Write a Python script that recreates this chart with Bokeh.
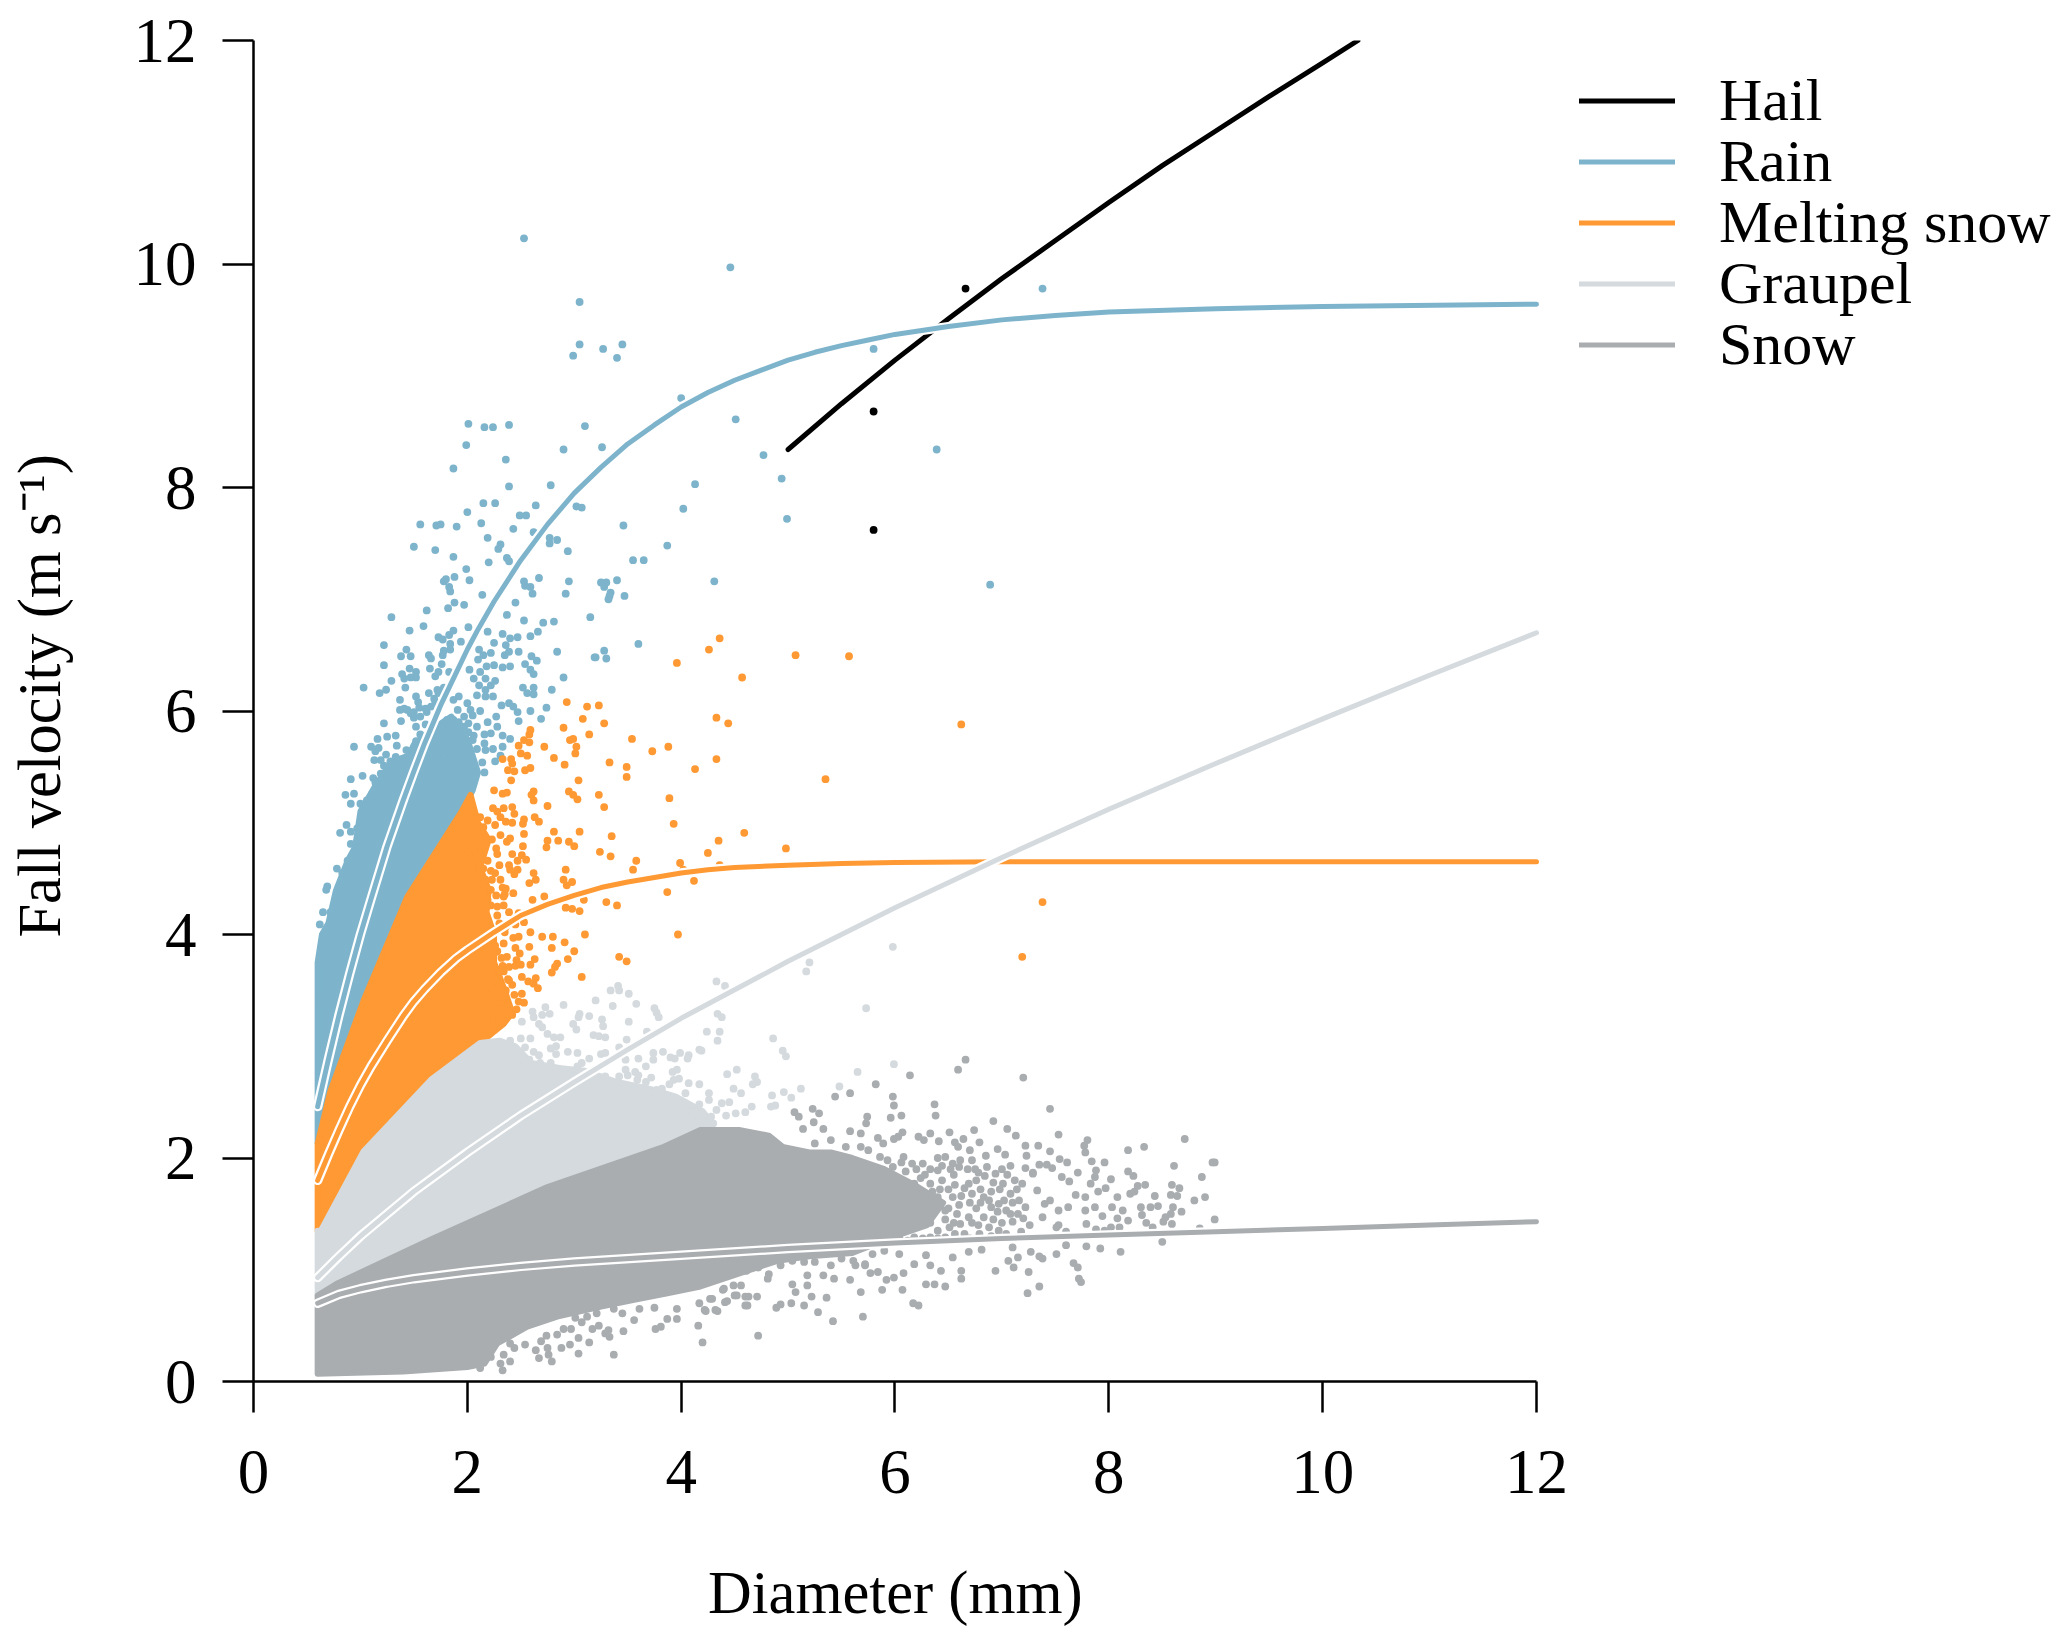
from bokeh.plotting import figure
from bokeh.models import Legend, LegendItem, FixedTicker, Range1d
from bokeh.embed import file_html
from bokeh.resources import INLINE

HAIL, RAIN, MELT, GRAUPEL, SNOW = "#000000", "#7DB4CC", "#FF9933", "#D4DADD", "#A9ADB0"
FONT = "Liberation Serif"

tick_values = [0, 2, 4, 6, 8, 10, 12]

# fitted curves
hail_x = [5, 5.5, 6, 6.5, 7, 7.5, 8, 8.5, 9, 9.5, 10, 10.33]
hail_y = [8.34, 8.75, 9.14, 9.51, 9.87, 10.21, 10.55, 10.88, 11.19, 11.50, 11.80, 12.0]
rain_x = [0.6, 0.7, 0.8, 0.9, 1, 1.1, 1.25, 1.4, 1.5, 1.6, 1.75, 1.9, 2, 2.1, 2.25, 2.5, 2.75, 3, 3.25, 3.5, 3.75, 4, 4.25, 4.5, 4.75, 5, 5.25, 5.5, 5.75, 6, 6.5, 7, 7.5, 8, 9, 10, 12]
rain_y = [2.46, 2.88, 3.28, 3.65, 4.0, 4.32, 4.79, 5.20, 5.46, 5.71, 6.05, 6.35, 6.55, 6.73, 6.98, 7.35, 7.67, 7.95, 8.18, 8.39, 8.56, 8.72, 8.85, 8.96, 9.05, 9.14, 9.21, 9.27, 9.32, 9.37, 9.44, 9.50, 9.54, 9.57, 9.60, 9.62, 9.64]
melt_x = [0.6, 0.7, 0.8, 0.9, 1, 1.1, 1.25, 1.4, 1.5, 1.6, 1.75, 1.9, 2, 2.25, 2.5, 2.75, 3, 3.25, 3.5, 3.75, 4, 4.25, 4.5, 5, 5.5, 6, 7, 12]
melt_y = [1.8, 2.03, 2.25, 2.46, 2.65, 2.82, 3.05, 3.27, 3.40, 3.51, 3.66, 3.79, 3.86, 4.02, 4.17, 4.27, 4.35, 4.42, 4.47, 4.51, 4.55, 4.58, 4.60, 4.62, 4.635, 4.645, 4.65, 4.65]
graupel_x = [0.6, 0.8, 1, 1.5, 2, 2.5, 3, 3.5, 4, 5, 6, 7, 8, 9, 10, 11, 12]
graupel_y = [0.93, 1.12, 1.30, 1.70, 2.05, 2.38, 2.68, 2.97, 3.25, 3.76, 4.24, 4.69, 5.12, 5.53, 5.93, 6.32, 6.70]
snow_x = [0.6, 0.8, 1, 1.25, 1.5, 2, 2.5, 3, 4, 5, 6, 7, 8, 9, 10, 11, 12]
snow_y = [0.70, 0.78, 0.83, 0.88, 0.92, 0.98, 1.03, 1.07, 1.13, 1.19, 1.24, 1.28, 1.31, 1.34, 1.37, 1.40, 1.43]

# outlines of the solid parts of the clouds
rain_cloud = [(.6,2.13),(.6,3.75),(.64,4.0),(.70,4.1),(.77,4.39),(.88,4.66),(.95,4.78),(1.0,5.1),(1.15,5.35),(1.3,5.55),(1.45,5.6),(1.5,5.7),(1.69,5.85),(1.85,5.95),(2.0,5.75),(2.1,5.45),(2.05,5.29),(1.94,5.09),(1.44,4.34),(1.03,3.41),(.72,2.6)]
melt_cloud = [(.6,2.13),(.72,2.6),(1.03,3.41),(1.44,4.34),(1.94,5.09),(2.03,5.25),(2.1,5.0),(2.2,4.85),(2.12,4.6),(2.2,4.4),(2.18,4.2),(2.25,4.0),(2.25,3.75),(2.35,3.5),(2.42,3.3),(2.34,3.2),(2.12,3.03),(1.66,2.70),(1.03,2.06),(.63,1.35),(.6,1.35)]
graupel_cloud = [(.6,.77),(.6,1.35),(.63,1.35),(1.03,2.06),(1.66,2.70),(2.12,3.03),(2.30,3.05),(2.45,3.0),(2.6,2.85),(2.9,2.8),(3.1,2.78),(3.4,2.68),(3.7,2.62),(3.95,2.55),(4.2,2.42),(4.3,2.3),(3.84,2.10),(2.75,1.74),(1.66,1.27),(.79,.88)]
snow_cloud = [(.6,.07),(.6,.77),(.79,.88),(1.66,1.27),(2.75,1.74),(3.84,2.10),(4.18,2.25),(4.54,2.25),(4.82,2.2),(4.95,2.1),(5.2,2.05),(5.4,2.05),(5.6,2.0),(5.9,1.9),(6.2,1.75),(6.45,1.6),(6.3,1.4),(6.0,1.3),(5.6,1.15),(5.2,1.12),(4.9,1.08),(4.65,1.0),(4.18,.85),(3.87,.79),(3.56,.73),(3.25,.67),(2.84,.58),(2.56,.49),(2.28,.34),(2.16,.16),(2.0,.13),(1.4,.09)]

hail_points = [(5.8,7.62),(5.8,8.68),(6.66,9.78)]

rain_points = [(2.53,10.23),(4.46,9.97),(3.05,9.66),(3.05,9.28),(2.99,9.18),(3.27,9.24),(3.45,9.28),(3.40,9.16),(5.80,9.24),(4.00,8.80),(7.38,9.78),
(4.51,8.61),(4.77,8.29),(4.94,8.08),(4.99,7.72),(6.39,8.34),(6.89,7.13),(4.13,8.03),(4.02,7.81),(3.46,7.66),(3.87,7.48),(3.55,7.35),(3.65,7.35),(4.31,7.16),
(2.01,8.57),(2.16,8.54),(2.24,8.54),(2.39,8.56),(3.10,8.55),(1.99,8.38),(2.90,8.34),(3.26,8.36),(2.36,8.25),(1.87,8.17),(2.78,8.02),(2.39,8.01),(2.15,7.86),(2.26,7.86),(2.64,7.84),(2.00,7.78),(2.49,7.75),(2.55,7.75),(3.02,7.83),(3.07,7.82),
(1.56,7.67),(1.71,7.66),(1.75,7.67),(1.90,7.65),(2.13,7.68),(2.43,7.63),(2.62,7.60),(1.50,7.47),(1.70,7.44),(2.19,7.55),(2.29,7.45),(2.31,7.49),(2.77,7.55),(2.77,7.50),(2.84,7.53),(2.94,7.43),(1.87,7.38),(2.20,7.33),(2.37,7.37),(2.39,7.34),(1.99,7.27),(1.88,7.20),(1.78,7.16),(1.80,7.18),(2.02,7.17),(2.67,7.19),(2.53,7.16),(2.54,7.12),(2.59,7.11),(2.95,7.16),(1.83,7.11),(1.84,7.07),(2.61,7.05),(2.14,7.04),(2.92,7.05),(3.25,7.15),(3.30,7.15),(3.28,7.11),(3.40,7.17),(3.34,7.06),(3.33,7.03),(3.32,7.00),(3.47,7.03),
(1.29,6.84),(1.62,6.90),(1.82,6.92),(1.88,6.97),(1.97,6.95),(2.45,6.97),(2.37,6.86),(3.15,6.84),(1.46,6.72),(1.59,6.76),(1.87,6.72),(1.83,6.68),(2.01,6.75),(1.73,6.66),(1.77,6.64),(1.22,6.59),(2.53,6.81),(2.71,6.79),(2.81,6.80),(2.66,6.71),(2.59,6.67),(2.47,6.66),(2.40,6.65),(2.33,6.69),(2.19,6.71),(2.25,6.61),(2.36,6.59),(2.84,6.53),(3.19,6.48),(3.60,6.60),(3.28,6.54),(3.20,6.48),(3.30,6.47),(2.48,6.53),(2.39,6.53),(2.35,6.50),(2.60,6.49),(2.65,6.45),(2.54,6.42),(2.59,6.37),(2.62,6.33),(2.40,6.40),(2.33,6.39),(2.25,6.41),(2.18,6.40),(2.11,6.55),(2.15,6.50),(2.22,6.52),(2.10,6.46),(1.94,6.62),(1.84,6.60),(1.78,6.54),(1.84,6.55),(1.43,6.55),(1.38,6.49),(1.47,6.49),(1.64,6.50),(1.66,6.47),(1.77,6.50),(1.76,6.42),(1.22,6.41),(1.65,6.38),(1.73,6.35),(1.83,6.35),(1.46,6.38),(1.39,6.33),(1.52,6.35),(1.47,6.30),(1.52,6.30),(1.70,6.31),(1.29,6.27),(1.41,6.29),(1.42,6.21),(1.03,6.21),(1.24,6.19),(1.18,6.16),
(2.02,6.37),(2.12,6.35),(2.06,6.29),(2.17,6.29),(2.26,6.27),(2.22,6.23),(2.11,6.23),(2.17,6.19),(2.09,6.14),(2.17,6.13),(2.24,6.13),(2.90,6.30),(2.52,6.21),(2.62,6.21),(2.56,6.16),(2.62,6.15),(2.79,6.19),(1.64,6.16),(1.72,6.19),(1.78,6.21),(1.37,6.10),(1.52,6.13),(1.54,6.08),(1.92,6.13),(1.87,6.10),(2.0,6.07),(2.32,6.05),(2.39,6.07),(2.43,6.04),(2.47,5.99),(2.74,6.03),(2.59,6.00),
(1.37,6.01),(1.44,6.01),(1.50,5.99),(1.55,6.03),(1.66,6.04),(1.62,5.99),(1.50,5.94),(1.91,6.01),(2.03,6.01),(2.12,6.00),(2.05,5.96),(2.27,5.95),(2.69,5.93),(2.48,5.91),(1.38,5.91),(1.22,5.89),(1.52,5.86),(1.61,5.88),(1.81,5.92),(1.87,5.92),(1.97,5.95),(2.01,5.89),(1.94,5.86),(2.09,5.86),(2.19,5.90),(2.28,5.86),(1.74,5.82),(1.56,5.79),(2.16,5.79),(2.22,5.80),(2.33,5.78),(2.40,5.75),(1.33,5.78),(1.25,5.77),(1.16,5.75),(1.34,5.69),(1.52,5.73),(1.94,5.75),(2.06,5.78),(2.05,5.74),(.94,5.68),(1.10,5.68),(1.17,5.67),(2.33,5.68),(2.16,5.71),(2.09,5.66),(2.17,5.65),(2.24,5.66),(1.43,5.65),(1.48,5.61),(1.24,5.61),(1.14,5.64),(1.97,5.62),(2.31,5.60),(1.33,5.59),(1.28,5.55),(1.13,5.56),(1.39,5.51),(2.14,5.54),(2.26,5.55),(2.0,5.51),(.91,5.39),(1.02,5.42),(1.12,5.40),(1.22,5.51),(1.28,5.44),(2.06,5.45),(2.16,5.45),(1.17,5.34),(.94,5.26),(.86,5.25),(.91,5.17),(1.0,5.17),(1.04,5.11),(1.11,5.26),(1.09,5.19),(.87,4.98),(.81,4.91),(1.05,5.02),(.91,4.92),(.97,4.95),(.91,4.81),(.88,4.66),(.78,4.59),(.83,4.55),(.69,4.43),
(.68,4.40),(.65,4.2),(.72,4.2),(.62,4.09),(.68,4.03),(.75,4.1),(.78,4.3),
(1.83,5.89),(1.87,5.84),(1.92,5.90),(1.97,5.86),(2.01,5.81),(1.94,5.77),(1.89,5.75),(1.98,5.75),(1.84,5.80),(1.81,5.84),(1.69,5.71),(1.73,5.66),(1.78,5.62),(1.84,5.63),(1.91,5.59),(1.97,5.59),(1.94,5.65),(1.67,5.62),(1.72,5.56),(1.80,5.53),(1.87,5.50),(2.0,5.44),(1.94,5.41),(1.84,5.44),(1.75,5.47),(1.66,5.50),(1.61,5.44),(1.56,5.38),(1.67,5.38),(1.78,5.35),
(1.19,5.56),(1.24,5.50),(1.30,5.47),(1.19,5.44),(1.14,5.36),(1.25,5.38),(1.34,5.38),(1.39,5.32),(1.28,5.29),(1.17,5.23),(1.06,5.20),(1.13,5.17),(1.22,5.17),(1.31,5.23),
(1.41,6.02),(1.47,5.98),(1.56,5.95),(1.61,6.02),(1.70,6.08),(1.73,6.16),(1.69,6.11)]

melt_points = [(2.93,6.08),(3.12,6.04),(3.23,6.05),(3.08,5.93),(3.28,5.89),(2.90,5.85),(3.14,5.79),(2.96,5.74),(2.99,5.75),(3.02,5.68),(2.72,5.68),(3.01,5.62),(2.81,5.58),(2.91,5.52),(3.33,5.54),(3.49,5.50),(3.49,5.41),(3.54,5.75),(3.73,5.64),(3.88,5.68),(4.33,5.94),(4.44,5.89),(4.33,5.57),(4.13,5.48),(3.04,5.38),(2.95,5.28),(2.99,5.25),(3.03,5.21),(3.23,5.25),(3.28,5.14),(3.89,5.22),(2.75,5.15),(2.62,5.28),(2.60,5.25),(2.62,5.20),(3.93,4.99),(4.59,4.91),(4.98,4.77),(4.35,4.84),(4.25,4.73),(3.99,4.64),(4.36,4.62),(4.02,4.58),(4.12,4.48),(3.87,4.38),(3.58,4.66),(3.55,4.58),(3.34,4.70),(3.24,4.74),(3.35,4.88),(3.05,4.92),(3.00,4.79),(2.95,4.83),(2.85,4.84),(2.81,4.92),(2.75,4.84),(2.74,4.78),(2.63,5.05),(2.67,5.01),(2.92,4.58),(2.90,4.49),(2.93,4.44),(2.98,4.47),(2.62,4.55),(2.64,4.49),(2.58,4.46),(3.09,4.31),(3.30,4.29),(3.40,4.26),(2.92,4.24),(2.98,4.23),(3.05,4.21),(2.72,4.34),(2.61,4.31),(3.10,4.00),(3.97,4.00),(2.91,3.93),(2.70,3.98),(2.80,3.98),(2.79,3.88),(3.00,3.85),(3.42,3.80),(3.49,3.76),(2.94,3.78),(2.84,3.74),(2.82,3.71),(2.79,3.66),(3.07,3.62),(2.63,3.78),(2.59,3.73),(2.64,3.61),(2.57,3.58),(2.62,3.56),(2.66,3.52),
(2.59,5.83),(2.58,5.79),(2.53,5.74),(2.58,5.72),(2.48,5.69),(2.50,5.62),(2.56,5.60),(2.41,5.57),(2.42,5.53),(2.33,5.57),(2.38,5.47),(2.44,5.46),(2.54,5.47),(2.59,5.49),(2.41,5.38),(2.25,5.29),(2.33,5.26),(2.37,5.27),(2.24,5.13),(2.34,5.13),(2.42,5.14),(2.28,5.10),(2.44,5.08),(2.31,5.05),(2.36,5.01),(2.42,5.00),(2.53,5.03),(2.52,4.99),(2.26,4.98),(2.31,4.89),(2.53,4.90),(2.40,4.86),(2.37,4.83),(2.52,4.79),(2.42,4.72),(2.51,4.71),(2.55,4.67),(2.40,4.58),(2.47,4.58),(2.44,4.54),(2.26,4.55),(2.27,4.35),(2.35,4.36),(2.43,4.37),(2.34,4.26),(2.39,4.20),(2.28,4.17),(2.53,4.11),(2.45,4.09),(2.59,4.02),(2.43,3.97),(2.23,3.96),(2.26,3.90),(2.45,3.88),(2.49,3.83),(2.32,3.79),(2.37,3.80),(2.46,3.77),(2.33,3.72),(2.34,3.67),(2.50,3.73),(2.45,3.72),(2.23,3.65),(2.25,3.59),(2.36,3.50),(2.26,3.52),(2.44,3.46),(2.31,3.40),(2.48,3.40),(2.53,3.39),(2.26,3.34),(2.46,3.33),(2.42,3.28),(2.23,3.26),
(2.12,5.05),(2.08,5.04),(2.19,5.02),(2.15,4.96),(2.11,4.86),(2.23,4.85),(2.15,4.80),(2.27,4.77),(2.28,4.72),(2.01,4.74),(2.07,4.74),(2.19,4.66),(2.15,4.59),(2.06,4.62),(2.23,4.49),(2.17,4.49),(1.98,4.44),(2.09,4.41),(2.15,4.37),(2.0,4.34),(2.19,4.31),(2.22,4.26),(2.12,4.22),(2.20,4.10),(2.06,4.07),(2.19,3.86),(2.09,3.89),(2.20,3.76),(2.11,3.72),(2.14,3.59),(2.17,3.47),(2.08,3.50),(2.12,3.32),(2.03,3.29),(2.25,3.20),(2.19,3.23),
(2.12,4.72),(2.10,4.55),(2.30,4.62),(2.33,4.42),(2.22,4.40),(2.30,4.10),(2.15,4.15),(2.35,4.02),(2.28,3.85),(2.15,3.82),(2.38,3.60),(2.30,3.60),(2.42,3.55),
(2.03,4.81),(2.08,4.66),(2.12,4.57),(2.22,4.57),(2.15,4.46),(2.08,4.34),(2.15,4.25),(2.09,4.10),(2.11,3.89),(2.15,3.80),(2.15,3.44),(2.25,3.44),(2.15,3.29),(2.31,3.28),(2.12,3.20),
(2.36,4.41),(2.31,4.49),(2.39,4.62),(2.47,4.66),(2.28,4.25),(2.34,4.34),(2.48,4.19),(2.36,4.07),(2.25,4.04),(2.48,3.98),(2.34,3.92),(2.25,3.83),(2.58,3.89),(2.39,3.71),(2.30,3.68),(2.51,3.62),(2.39,3.59),(2.34,3.44),(2.51,3.47),
(4.36,6.65),(4.26,6.55),(3.96,6.43),(4.57,6.30),(5.07,6.50),(5.57,6.49),(6.62,5.88),(5.35,5.39),(7.38,4.29),(7.19,3.80)]

graupel_points = [(4.33,3.58),(4.41,3.54),(5.17,3.67),(5.20,3.75),(3.41,3.54),(3.42,3.50),(3.34,3.50),(3.51,3.47),(3.20,3.41),(3.58,3.38),(3.36,3.36),(2.90,3.37),(2.73,3.35),(2.77,3.29),(2.70,3.28),(2.61,3.31),(2.62,3.26),(3.05,3.29),(3.04,3.26),(3.14,3.27),(3.26,3.24),(3.27,3.18),(3.51,3.22),(3.75,3.34),(3.77,3.30),(3.79,3.26),(4.34,3.29),(4.38,3.26),(4.24,3.13),(4.36,3.13),(4.34,3.05),(4.86,3.07),(4.95,2.96),(4.98,2.91),(2.51,3.22),(2.67,3.20),(2.70,3.17),(2.99,3.20),(3.02,3.15),(2.75,3.11),(2.81,3.08),(2.87,3.08),(3.18,3.10),(3.23,3.09),(3.29,3.08),(3.49,3.06),(3.68,3.13),(2.59,3.07),(2.50,3.07),(2.40,3.05),(2.54,2.99),(2.62,2.95),(2.67,2.92),(2.78,2.98),(2.83,3.0),(2.83,2.93),(2.94,2.95),(3.03,2.94),(3.14,2.89),(3.25,2.93),(3.29,2.94),(3.42,2.99),(3.74,2.94),(3.83,2.95),(3.99,2.94),(4.07,2.92),(4.06,2.89),(4.17,2.97),(4.19,2.96),(3.90,2.90),(3.94,2.89),(3.60,2.89),(3.48,2.88),(3.74,2.88),(3.67,2.82),(2.34,2.93),(2.42,2.86),(2.51,2.89),(2.58,2.88),(2.68,2.85),(2.78,2.85),(2.33,2.79),(2.53,2.79),(2.61,2.82),(2.83,2.79),(2.89,2.79),(3.03,2.82),(3.07,2.85),(3.96,2.79),(3.92,2.77),(4.52,2.79),(4.43,2.75),(4.69,2.73),(3.48,2.79),(3.57,2.77),(3.60,2.74),(3.29,2.73),(3.42,2.73),(3.50,2.74),(3.93,2.70),(3.98,2.71),(3.89,2.66),(4.07,2.67),(4.17,2.66),(4.67,2.66),(4.71,2.68),(3.67,2.68),(4.49,2.62),(5.12,2.62),(4.56,2.58),(4.96,2.59),(4.85,2.56),(5.03,2.54),(4.04,2.58),(4.26,2.58),(3.39,2.62),(3.48,2.62),(3.56,2.62),(3.77,2.61),(3.71,2.59),(3.87,2.55),(3.99,2.50),(4.17,2.48),(4.26,2.52),(4.38,2.49),(4.45,2.50),(4.66,2.46),(4.88,2.47),(4.84,2.46),(4.33,2.43),(4.42,2.38),(4.51,2.40),(4.60,2.41),(4.04,2.43),(4.21,2.37),(4.12,2.40),(4.30,2.31),(4.12,2.31),(4.03,2.34),(3.92,2.41),
(2.72,2.72),(2.95,2.74),(3.12,2.76),(3.22,2.70),(3.35,2.68),(3.60,2.58),(3.82,2.62),(3.72,2.72),(2.80,2.70),(3.05,2.72),
(3.78,2.55),(3.65,2.58),(3.53,2.59),(3.43,2.58),(3.34,2.59),(3.25,2.67),(3.12,2.67),(3.03,2.61),(3.59,2.70),(3.78,2.49),(3.96,2.43),(4.09,2.37),(4.18,2.34),(4.28,2.37),(3.93,2.37),
(5.73,3.34),(5.65,2.77),(5.99,2.84),(5.48,2.64),(5.98,3.89)]

snow_points = [(6.66,2.88),(6.59,2.79),(7.20,2.72),(6.14,2.74),(5.82,2.66),(5.44,2.55),(5.58,2.58),(5.98,2.55),(5.99,2.47),(6.37,2.48),(6.38,2.38),(7.45,2.44),(5.96,2.36),(6.06,2.38),(5.06,2.41),(5.23,2.44),(5.29,2.40),(5.10,2.37),(5.14,2.26),(5.73,2.31),(5.74,2.37),(5.24,2.32),(6.92,2.33),(7.05,2.26),(7.13,2.20),(6.74,2.25),(7.53,2.21),(8.71,2.17),(7.80,2.16),(7.77,2.11),(8.33,2.10),(8.18,2.07),(7.22,2.11),(7.34,2.11),(7.45,2.06),(6.51,2.23),(6.33,2.22),(6.07,2.23),(5.58,2.24),(5.68,2.22),(5.84,2.18),(5.89,2.13),(5.99,2.17),(6.03,2.19),(6.22,2.19),(6.27,2.16),(6.41,2.15),(6.64,2.17),(6.56,2.14),(6.79,2.14),(6.96,2.08),(7.03,2.03),(7.23,2.02),(6.70,2.07),(6.59,2.10),(6.85,2.02),(7.78,2.05),(7.54,1.99),(7.61,1.96),(7.84,1.97),(7.96,1.96),(7.88,1.89),(8.18,1.88),(8.23,1.84),(8.99,1.96),(8.97,1.96),(8.61,1.93),(8.87,1.83),(7.08,1.93),(7.22,1.91),(7.35,1.94),(7.42,1.94),(7.47,1.91),(7.29,1.87),(7.71,1.87),(7.56,1.83),(7.87,1.83),(8.02,1.81),(7.63,1.79),(7.83,1.77),(8.34,1.76),(8.27,1.75),(8.59,1.76),(8.66,1.73),(8.24,1.70),(8.20,1.68),(8.43,1.66),(8.58,1.67),(8.64,1.66),(8.90,1.65),(8.80,1.62),(8.46,1.57),(8.30,1.56),(8.39,1.56),(8.60,1.56),(8.68,1.52),(8.58,1.50),(8.53,1.47),(8.99,1.45),(8.31,1.49),(8.35,1.42),(8.41,1.38),(8.51,1.43),(8.59,1.41),(8.85,1.37),(8.08,1.65),(7.97,1.73),(7.90,1.70),(7.78,1.65),(7.69,1.67),(8.03,1.56),(8.13,1.53),(8.08,1.46),(8.18,1.44),(7.94,1.48),(7.78,1.53),(7.87,1.56),(8.02,1.38),(8.10,1.38),(7.79,1.41),(7.88,1.36),(7.96,1.35),(7.53,1.40),(7.38,1.47),(7.60,1.34),
(8.50,1.25),(8.11,1.16),(7.92,1.19),(7.79,1.21),(7.60,1.22),(7.51,1.14),(7.67,1.06),(7.71,1.02),(7.72,.92),(7.74,.89),(7.35,.85),(7.24,.79),(7.38,1.10),(7.35,1.12),(7.27,1.16),(7.15,1.11),(7.06,1.08),(7.11,1.02),(6.94,.99),(7.25,.98),(6.81,1.18),(6.69,1.16),(7.10,1.20),(6.62,.99),(6.62,.92),(6.47,.85),(6.37,.87),(6.29,.87),(6.43,.99),(6.33,1.04),(6.54,1.11),(6.18,1.05),(6.29,1.13),(6.08,.97),(5.92,.91),(5.99,.93),(6.07,.82),(5.88,.82),(5.68,.80),(5.58,.91),(5.77,.97),(5.63,1.04),(6.17,.70),(6.22,.68),(5.70,.58),(5.42,.54),(4.72,.41),(5.28,.62),(5.36,.75),(5.22,.76),(5.15,.68),(5.03,.70),(4.93,.69),(4.89,.66),(5.18,.95),(5.18,.86),(5.04,.87),(5.07,.80),(4.81,.92),(4.71,.76),(4.60,.68),(4.63,.76),(4.50,.77),(4.39,.82),(4.41,.71),(4.27,.74),(4.32,.64),(4.22,.64),(4.20,.35),(5.43,.92),(5.33,.95),(5.72,1.04),(5.84,.98),
(2.12,.12),(2.33,.10),(2.31,.16),(2.40,.18),(2.22,.22),(2.34,.24),(2.44,.30),(2.40,.34),(2.54,.33),(2.64,.28),(2.67,.21),(2.74,.41),(2.69,.36),(2.75,.30),(2.76,.24),(2.79,.18),(2.88,.30),(2.96,.33),(3.04,.25),(3.14,.35),(3.37,.24),(3.04,.39),(2.84,.42),(2.90,.47),(2.97,.47),(3.01,.57),(3.07,.53),(3.17,.47),(3.23,.50),(3.32,.46),(3.29,.43),(3.33,.40),(3.46,.45),(3.56,.55),(3.76,.47),(3.81,.49),(4.16,.50),(3.61,.65),(3.87,.56),(3.96,.56),(3.96,.65),(3.75,.66),(4.23,.63),(4.34,.63),(4.17,.70),(4.29,.74),(4.43,.72),(4.52,.77),(4.62,.68),(4.60,.76),(4.40,.83),(4.49,.86),(4.56,.86),(3.37,.65),(3.45,.61),(3.21,.61),(3.12,.58),
(6.33,1.77),(6.40,1.89),(6.47,2.01),(6.54,1.95),(6.61,1.98),(6.69,1.77),(6.72,1.98),(6.76,1.80),(6.83,1.65),(6.86,1.92),(6.94,1.86),(7.01,1.77),(7.08,1.68),(6.90,1.56),(6.97,1.59),(7.04,1.53),(7.19,1.77),(7.29,1.86),(7.33,1.71),(7.22,1.56),(7.15,1.50),(7.26,1.40),(7.10,1.43),(6.97,1.35),(6.83,1.47),(6.69,1.47),(6.61,1.41),(6.79,1.32),(6.65,1.32),(6.51,1.38),(6.47,1.53),(6.40,1.65),(6.54,1.65),(6.65,1.73),(7.45,1.62),(7.53,1.53),(7.51,1.38),(7.40,1.59),(7.62,1.56),(7.04,1.32),(6.33,1.29),(6.47,1.29),(6.18,1.29),(6.04,1.29),(5.97,1.26),(6.11,1.44),(6.24,1.56),(6.18,1.77),(6.26,1.95),(6.08,2.01),(5.93,1.98),(5.86,2.01),(5.75,2.07),(5.68,2.10),(5.54,2.10),(5.40,2.16),(5.33,2.26),(5.25,2.13),
(6.04,1.14),(5.90,1.17),(5.79,1.14),(5.72,1.05),(5.61,1.08),(5.50,1.10),(5.40,1.04),(5.25,1.07),(5.15,1.07),(5.04,1.08),(4.93,1.04),(4.82,.96),(4.72,1.02),(4.61,.99),(4.54,1.02),
(6.44,1.8),(6.5,1.72),(6.47,1.45),(6.55,1.85),(6.6,1.58),(6.58,1.5),(6.7,1.6),(6.75,1.9),(6.8,1.72),(6.76,1.55),(6.9,1.7),(6.92,1.45),(7.0,1.9),(7.12,1.8),(7.16,1.62),(6.35,1.7),(6.36,1.55),(6.33,1.42),(6.4,1.35),(6.33,1.9),(6.2,1.9),(6.24,1.82),(6.1,1.88),(5.98,1.92),
(6.4,2.0),(6.44,1.93),(6.52,1.9),(6.6,1.92),(6.68,1.9),(6.78,1.87),(6.84,1.84),(6.92,1.78),(6.98,1.72),(7.05,1.85),(7.14,1.72),(7.1,1.6),(7.02,1.62),(6.96,1.52),(6.88,1.62),(6.8,1.6),(6.72,1.68),(6.62,1.66),(6.56,1.76),(6.42,1.72),(6.5,1.55),(6.55,1.42),(6.72,1.42),(6.78,1.4),(6.88,1.38),(7.0,1.42),(7.08,1.5),(7.2,1.46),(7.18,1.34),(6.9,1.3),(6.7,1.28),(6.56,1.32),(6.4,1.28),(6.26,1.28),(6.12,1.26),(6.06,1.96),(6.16,1.95),(6.28,1.85)]

legend_names = ["Hail", "Rain", "Melting snow", "Graupel", "Snow"]

p = figure(frame_width=1798, frame_height=1341, output_backend="svg", toolbar_location=None,
           x_range=Range1d(0, 16.817), y_range=Range1d(0, 12),
           x_axis_label="Diameter (mm)" + "\u00a0" * 34, y_axis_label="\u00a0\u00a0Fall velocity (m s⁻¹)",
           min_border_left=253, min_border_right=5, min_border_top=40, min_border_bottom=243)
p.grid.visible = False
p.outline_line_color = None

for ax in (p.xaxis[0], p.yaxis[0]):
    ax.ticker = FixedTicker(ticks=tick_values)
    ax.minor_tick_line_color = None
    ax.major_tick_in = 0
    ax.major_tick_out = 31
    ax.major_tick_line_width = 2.5
    ax.major_tick_line_color = "#000000"
    ax.axis_line_width = 2.5
    ax.axis_line_color = "#000000"
    ax.major_label_text_font = FONT
    ax.major_label_text_font_size = "63px"
    ax.major_label_text_color = "#000000"
    ax.axis_label_text_font = FONT
    ax.axis_label_text_font_size = "60.5px"
    ax.axis_label_text_font_style = "normal"
    ax.axis_label_text_color = "#000000"
p.xaxis[0].bounds = (0, 12)
p.xaxis[0].major_label_standoff = 38
p.yaxis[0].major_label_standoff = 26
p.yaxis[0].major_label_orientation = "horizontal"
p.xaxis[0].axis_label_standoff = 63
p.yaxis[0].axis_label_standoff = 58

for cloud, pts, col in ((rain_cloud, rain_points, RAIN), (melt_cloud, melt_points, MELT),
                        (graupel_cloud, graupel_points, GRAUPEL), (snow_cloud, snow_points, SNOW)):
    p.patch([c[0] for c in cloud], [c[1] for c in cloud], fill_color=col, line_color=col,
            line_width=6, line_join="round")
    p.scatter([c[0] for c in pts], [c[1] for c in pts], size=7.8, fill_color=col, line_color=None)

p.scatter([c[0] for c in hail_points], [c[1] for c in hail_points], size=7.8, fill_color=HAIL, line_color=None)

lines = [p.line(hail_x, hail_y, line_color=HAIL, line_width=5, line_cap="round", line_join="round")]
for xs, ys, col in ((rain_x, rain_y, RAIN), (melt_x, melt_y, MELT),
                    (graupel_x, graupel_y, GRAUPEL), (snow_x, snow_y, SNOW)):
    p.line(xs, ys, line_color="#FFFFFF", line_width=9.5, line_cap="round", line_join="round")
    lines.append(p.line(xs, ys, line_color=col, line_width=5, line_cap="round", line_join="round"))

for i, (name, line) in enumerate(zip(legend_names, lines)):
    legend = Legend(items=[LegendItem(label=name, renderers=[line])],
                    location=(1326, 1246 - 61 * i), orientation="vertical", padding=0, margin=0,
                    glyph_width=96, glyph_height=61, label_height=61, label_standoff=44,
                    background_fill_alpha=0, border_line_color=None,
                    label_text_font=FONT, label_text_font_size="60px", label_text_color="#000000")
    p.add_layout(legend, "center")

open("out.html", "w").write(file_html(p, INLINE))
